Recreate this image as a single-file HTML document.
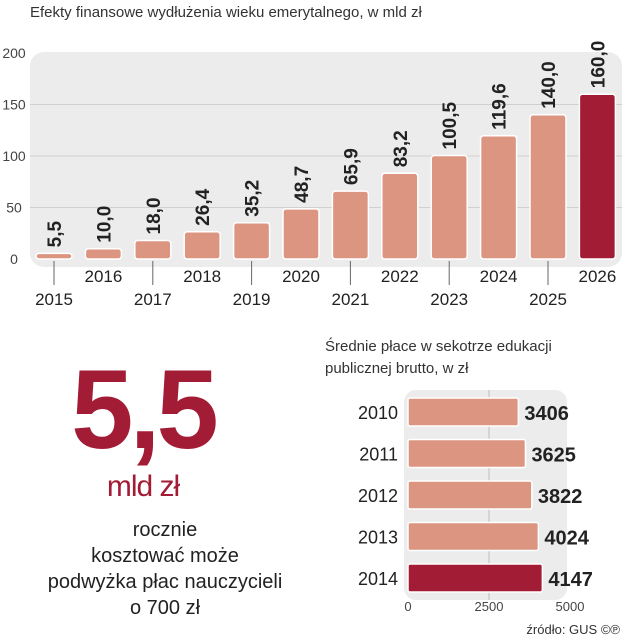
<!DOCTYPE html>
<html><head><meta charset="utf-8"><style>
body{margin:0;width:632px;height:640px;background:#fff;overflow:hidden;font-family:"Liberation Sans",sans-serif}
svg{display:block}
</style></head><body>
<svg width="632" height="640">
<text x="30" y="17" font-size="15" fill="#333">Efekty finansowe wydłużenia wieku emerytalnego, w mld zł</text>
<rect x="30" y="52" width="592" height="215" rx="14" fill="#ececec"/>
<g id="topG"></g>
<text x="143" y="448" font-size="112" font-weight="bold" fill="#a31c35" text-anchor="middle" style="letter-spacing:-4px">5,5</text>
<text x="143" y="496" font-size="30" fill="#a31c35" text-anchor="middle" style="letter-spacing:-1px">mld zł</text>
<g font-size="20" fill="#222" text-anchor="middle">
<text x="165" y="536">rocznie</text><text x="165" y="562">kosztować może</text><text x="165" y="588">podwyżka płac nauczycieli</text><text x="165" y="614">o 700 zł</text></g>
<text x="325" y="351" font-size="15" fill="#333">Średnie płace w sekotrze edukacji</text>
<text x="325" y="373" font-size="15" fill="#333">publicznej brutto, w zł</text>
<rect x="404" y="390" width="163" height="210" rx="12" fill="#ececec"/>
<g id="botG"></g>
<text x="620" y="634" font-size="13" fill="#333" text-anchor="end">źródło: GUS ©℗</text>
</svg>
<script>
const years=["2015","2016","2017","2018","2019","2020","2021","2022","2023","2024","2025","2026"];
const values=[5.5,10.0,18.0,26.4,35.2,48.7,65.9,83.2,100.5,119.6,140.0,160.0];
const labels=["5,5","10,0","18,0","26,4","35,2","48,7","65,9","83,2","100,5","119,6","140,0","160,0"];
const yTicks=[0,50,100,150,200];
const wYears=["2010","2011","2012","2013","2014"];
const wages=[3406,3625,3822,4024,4147];
const xTicks=[0,2500,5000];
const NS="http://www.w3.org/2000/svg";
function mk(p,t,a,txt){const e=document.createElementNS(NS,t);for(const k in a)e.setAttribute(k,a[k]);if(txt!==undefined)e.textContent=txt;p.appendChild(e);return e;}
const topG=document.getElementById('topG');
const yS=v=>259-v*1.03, xS=i=>54+i*49.4;
yTicks.forEach(t=>{
 if(t>0&&t<200){const l=mk(topG,'line',{x1:30,x2:622,y1:yS(t),y2:yS(t),stroke:'#d0d0d0','stroke-width':1});
 
 }
 const tx=mk(topG,'text',{x:14,y:yS(t)+5,'font-size':14,fill:'#444','text-anchor':'middle'},String(t));
 
 
});
values.forEach((v,i)=>{
 const x=xS(i),h=Math.max(v*1.03,5);
 const r=mk(topG,'rect',{x:x-18,y:259-h,width:36,height:h,rx:3,fill:i==11?'#a31c35':'#dc9580',stroke:'#fff','stroke-width':1.5});
 
 
 const ly=259-h-6;
 const t=mk(topG,'text',{x:x+7,y:ly,'font-size':19,'font-weight':'bold',fill:'#222',transform:`rotate(-90 ${x+7} ${ly})`},labels[i]);
 
 
 const low=i%2==0;
 if(low){const tl=mk(topG,'line',{x1:x,x2:x,y1:261,y2:285,stroke:'#666','stroke-width':1});
 
 }
 const yl=mk(topG,'text',{x:x,y:low?305:282,'font-size':17,fill:'#222','text-anchor':'middle'},years[i]);
 
 
});
const botG=document.getElementById('botG');
const xB=v=>408+v*0.0324;
const g=mk(botG,'line',{x1:xB(2500),x2:xB(2500),y1:390,y2:600,stroke:'#bbb','stroke-width':1});


wages.forEach((v,i)=>{
 const cy=412+i*41.5;
 const r=mk(botG,'rect',{x:408,y:cy-14,width:xB(v)-408,height:28,rx:2,fill:i==4?'#a31c35':'#dc9580',stroke:'#fff','stroke-width':1.5});
 
 
 const l=mk(botG,'text',{x:xB(v)+6,y:cy+8,'font-size':20,'font-weight':'bold',fill:'#222'},String(v));
 
 
 const yl=mk(botG,'text',{x:398,y:cy+7,'font-size':18,fill:'#222','text-anchor':'end'},wYears[i]);
 
 
});
xTicks.forEach(t=>{
 const tx=mk(botG,'text',{x:xB(t),y:611,'font-size':13,fill:'#444','text-anchor':'middle'},String(t));
 
 
});
</script>
</body></html>
